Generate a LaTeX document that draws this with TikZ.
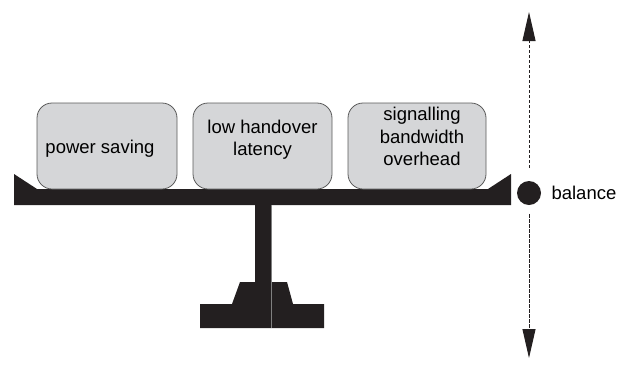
\documentclass[tikz,border=0pt]{standalone}
\usepackage{fontspec}
\setmainfont{Liberation Sans}
\usetikzlibrary{arrows.meta}
\definecolor{beamblack}{HTML}{231F20}
\definecolor{boxgray}{HTML}{D5D6D8}
\definecolor{edgegray}{HTML}{5A5A5A}
\tikzset{
  weight/.style={draw=edgegray, fill=boxgray, rounded corners=15pt, line width=0.8pt,
    minimum width=140pt, minimum height=86pt, align=center, inner sep=0pt,
    font=\fontsize{18.5}{22.5}\selectfont},
  solid part/.style={fill=beamblack, draw=none},
  axis/.style={dashed, dash pattern=on 3.3pt off 1.7pt, line width=1pt, beamblack,
    -{Triangle[length=29pt,width=13pt]}}
}
\begin{document}
\begin{tikzpicture}[x=1pt,y=-1pt]
  \useasboundingbox (0,0) rectangle (627,365);
  \fill[solid part] (14,174) -- (37,189) -- (488,189) -- (511,174) -- (511,205) -- (14,205) -- cycle;
  \fill[solid part] (255,205) rectangle (271,328);
  \fill[solid part] (240,282) -- (287,282) -- (293,304) -- (324,304) -- (324,328)
    -- (200,328) -- (200,304) -- (232,304) -- cycle;
  \draw[gray, line width=0.4pt] (271,205) -- (271,328);
  \node[weight] (power) at (107,146) {\\[-3pt]power saving\hspace*{14pt}};
  \node[weight, minimum width=139pt] (latency) at (262.5,146) {low handover\\latency\\[-6pt]};
  \node[weight, minimum width=138pt] (overhead) at (417,146) {\hspace*{10pt}signalling\\\hspace*{10pt}bandwidth\\\hspace*{10pt}overhead\\[-4pt]};
  \node[circle, fill=beamblack, minimum size=24pt, inner sep=0pt] (dot) at (529,193) {};
  \node[anchor=west, font=\fontsize{18.5}{22.5}\selectfont] (label) at (548,193) {balance};
  \coordinate (top) at (529,12);
  \coordinate (bottom) at (529,358);
  \draw[axis, shorten <=13pt] (dot.north) -- (top);
  \draw[axis, shorten <=9pt] (dot.south) -- (bottom);
\end{tikzpicture}
\end{document}
